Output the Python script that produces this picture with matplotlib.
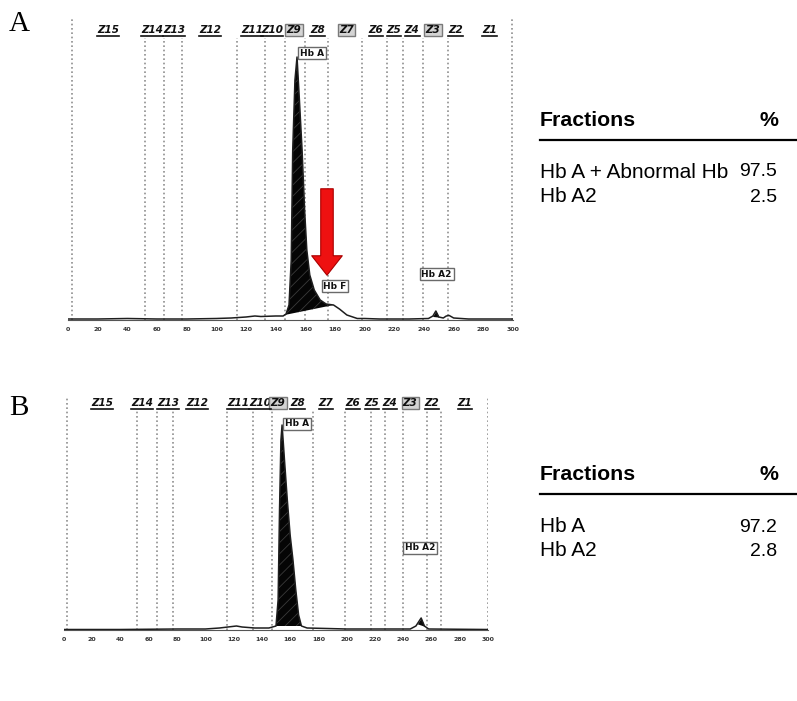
import numpy as np
import matplotlib
matplotlib.use("Agg")
import matplotlib.pyplot as plt

# ---- data ----
# zone names (same in both runs)
zones = ["Z15", "Z14", "Z13", "Z12", "Z11", "Z10", "Z9", "Z8",
         "Z7", "Z6", "Z5", "Z4", "Z3", "Z2", "Z1"]
tick_vals = list(range(0, 301, 20))

# run A
zone_pos_a = [27, 56.8, 71.6, 95.8, 124, 137.6, 152.4, 168, 188, 207.7, 219.8, 232, 246, 261, 284]
zone_boxed_a = ["Z9", "Z7", "Z3"]
zone_lines_a = [2.7, 52, 65, 77, 114, 133, 146, 160, 175, 198, 215, 226, 239, 256, 299]
trace_x_a = [0, 20, 40, 60, 80, 100, 110, 120, 126, 130, 140, 145, 147, 149, 150.5, 151.5,
             153, 154.4, 156, 157.8, 159.5, 161, 163, 166, 170, 174, 179, 183, 188, 195,
             200, 210, 230, 243, 246, 248, 250, 253, 255, 257, 260, 270, 300]
trace_y_a = [1, 1, 1.5, 1, 1, 1.5, 2, 3, 4, 3.5, 4, 4, 6, 15, 60, 170,
             240, 263, 220, 170, 110, 70, 45, 30, 20, 16, 15, 11, 5, 1.5,
             1.5, 1, 1, 1.5, 4, 9, 3, 2, 4, 4.5, 2, 1, 1]
fill_a = (146, 179)  # integration window of Hb A peak

# run B
zone_pos_b = [26.9, 55.5, 73.5, 94, 123, 138.7, 151.5, 165, 185.4, 204.5, 218, 230.7, 244.9, 260.4, 283.8]
zone_boxed_b = ["Z9", "Z3"]
zone_lines_b = [2, 52, 66, 77, 115, 134, 147, 176, 199, 217, 227, 240, 257, 267, 300]
trace_x_b = [0, 40, 80, 100, 110, 116, 122, 126, 135, 145, 150, 151.5, 152.5, 153.5, 154.3,
             156, 158, 160, 162, 164, 166, 168, 172, 200, 245, 249, 252.7, 255, 258, 300]
trace_y_b = [0.5, 0.5, 1, 1, 2, 3, 4, 3, 2, 2, 4, 30, 120, 190, 205,
             170, 130, 95, 70, 40, 15, 4, 2, 1, 1, 4, 12, 4, 1, 0.5]
fill_b = (150, 168)

# fraction tables
frac_a = ["Hb A + Abnormal Hb", "Hb A2"]
pct_a = [97.5, 2.5]
frac_b = ["Hb A", "Hb A2"]
pct_b = [97.2, 2.8]

W, H = 797, 701
fig = plt.figure(figsize=(W / 100, H / 100), dpi=100)
plt.rcParams["hatch.linewidth"] = 0.6


def px_axes(x0, x1, ytop, ybot):
    return fig.add_axes([x0 / W, 1 - ybot / H, (x1 - x0) / W, (ybot - ytop) / H])


def draw_panel(ax, tx, ty, fill, zpos, zboxed, zlines, top, zlab_y, peaks):
    ax.set_xlim(0, 300)
    ax.set_ylim(0, top)
    for s in ["top", "left", "right"]:
        ax.spines[s].set_visible(False)
    ax.spines["bottom"].set_color("#555555")
    ax.spines["bottom"].set_linewidth(0.8)
    ax.set_yticks([])
    ax.set_xticks(tick_vals)
    ax.set_xticklabels([str(v) for v in tick_vals], fontsize=4.5, fontweight="bold", color="#333333")
    ax.tick_params(axis="x", length=0, pad=5)

    # dotted zone boundaries; outer ones run to the top, inner ones stop under the labels
    for i, xl in enumerate(zlines):
        ytop = top if i in (0, len(zlines) - 1) else zlab_y - 8
        ax.plot([xl, xl], [0, ytop], color="#8f8f8f", lw=1.2, ls=(0, (1, 1.6)), zorder=1)

    tx = np.array(tx, float)
    ty = np.array(ty, float)
    # Hb A peak fill, closed by a straight baseline between the valley points
    xs = np.linspace(fill[0], fill[1], 400)
    ys = np.interp(xs, tx, ty)
    base = np.interp(xs, [fill[0], fill[1]], [ys[0], ys[-1]])
    ax.fill_between(xs, base, ys, facecolor="#050505", edgecolor="#3a3a3a",
                    hatch="///", linewidth=0, zorder=2)
    ax.plot(tx, ty, color="#1e1e1e", lw=1.1, zorder=3)

    # small Hb A2 peak fill
    xa = np.linspace(peaks["a2"][0], peaks["a2"][1], 100)
    ya = np.interp(xa, tx, ty)
    ax.fill_between(xa, np.interp(xa, [xa[0], xa[-1]], [ya[0], ya[-1]]), ya,
                    color="#0a0a0a", lw=0, zorder=2)

    # zone labels
    for name, xp in zip(zones, zpos):
        boxed = name in zboxed
        kw = {}
        if boxed:
            kw["bbox"] = dict(boxstyle="square,pad=0.12", fc="#d4d4d4", ec="#7a7a7a", lw=1.0)
        t = ax.text(xp, zlab_y, name, ha="center", va="center", fontsize=7.5,
                    fontweight="bold", fontstyle="italic", color="#111111",
                    zorder=5, clip_on=False, **kw)
        if not boxed:
            ax._ul.append(t)

    # peak name boxes
    for label, (xp, yp) in peaks["labels"].items():
        ax.text(xp, yp, label, ha="center", va="center", fontsize=6.5, fontweight="bold",
                color="#111111", zorder=6,
                bbox=dict(boxstyle="square,pad=0.2", fc="white", ec="#6a6a6a", lw=1.0))


def draw_table(x0, x1, y_head, y_line, y_rows, names, vals):
    fs = 15
    fig.text(x0 / W, 1 - y_head / H, "Fractions", fontsize=15.3, fontweight="bold",
             family="Liberation Sans", va="center", ha="left")
    fig.text(778 / W, 1 - y_head / H, "%", fontsize=15.3, fontweight="bold",
             family="Liberation Sans", va="center", ha="right")
    fig.add_artist(plt.Line2D([x0 / W, x1 / W], [1 - y_line / H] * 2, color="black", lw=1.6))
    for yr, n, v in zip(y_rows, names, vals):
        fig.text(x0 / W, 1 - yr / H, n, fontsize=fs, family="Liberation Sans",
                 va="center", ha="left")
        fig.text(777 / W, 1 - yr / H, f"{v:.1f}", fontsize=14, family="Liberation Sans",
                 va="center", ha="right")


# panel A
axA = px_axes(68, 513, 18, 320)
axA._ul = []
draw_panel(axA, trace_x_a, trace_y_a, fill_a, zone_pos_a, zone_boxed_a, zone_lines_a,
           302, 290,
           {"a2": (245.5, 250.5),
            "labels": {"Hb A": (164.5, 267), "Hb F": (180, 34), "Hb A2": (248.5, 46)}})
# red arrow pointing at the Hb F shoulder
axA.annotate("", xy=(174.6, 42), xytext=(174.6, 134),
             arrowprops=dict(arrowstyle="simple,head_width=2.2,head_length=1.4,tail_width=0.9",
                             fc="#ee1111", ec="#aa0000", lw=0.8), zorder=7)

# panel B
axB = px_axes(64, 488, 396, 630)
axB._ul = []
draw_panel(axB, trace_x_b, trace_y_b, fill_b, zone_pos_b, zone_boxed_b, zone_lines_b,
           234, 227,
           {"a2": (250, 255.5),
            "labels": {"Hb A": (165, 206), "Hb A2": (252, 82)}})

# underline unboxed zone labels
fig.canvas.draw()
r = fig.canvas.get_renderer()
for ax in (axA, axB):
    for t in ax._ul:
        bb = t.get_window_extent(r)
        y = bb.y0 - 0.5
        fig.add_artist(plt.Line2D([bb.x0 / W, bb.x1 / W], [y / H, y / H],
                                  color="#111111", lw=1.2))

# panel letters
fig.text(19 / W, 1 - 24 / H, "A", fontsize=21, family="Liberation Serif", ha="center", va="center")
fig.text(19 / W, 1 - 408 / H, "B", fontsize=21, family="Liberation Serif", ha="center", va="center")

draw_table(540, 797, 120, 140, [172, 197], frac_a, pct_a)
draw_table(540, 797, 474, 494, [527, 551], frac_b, pct_b)

fig.savefig("out.png", dpi=100)
